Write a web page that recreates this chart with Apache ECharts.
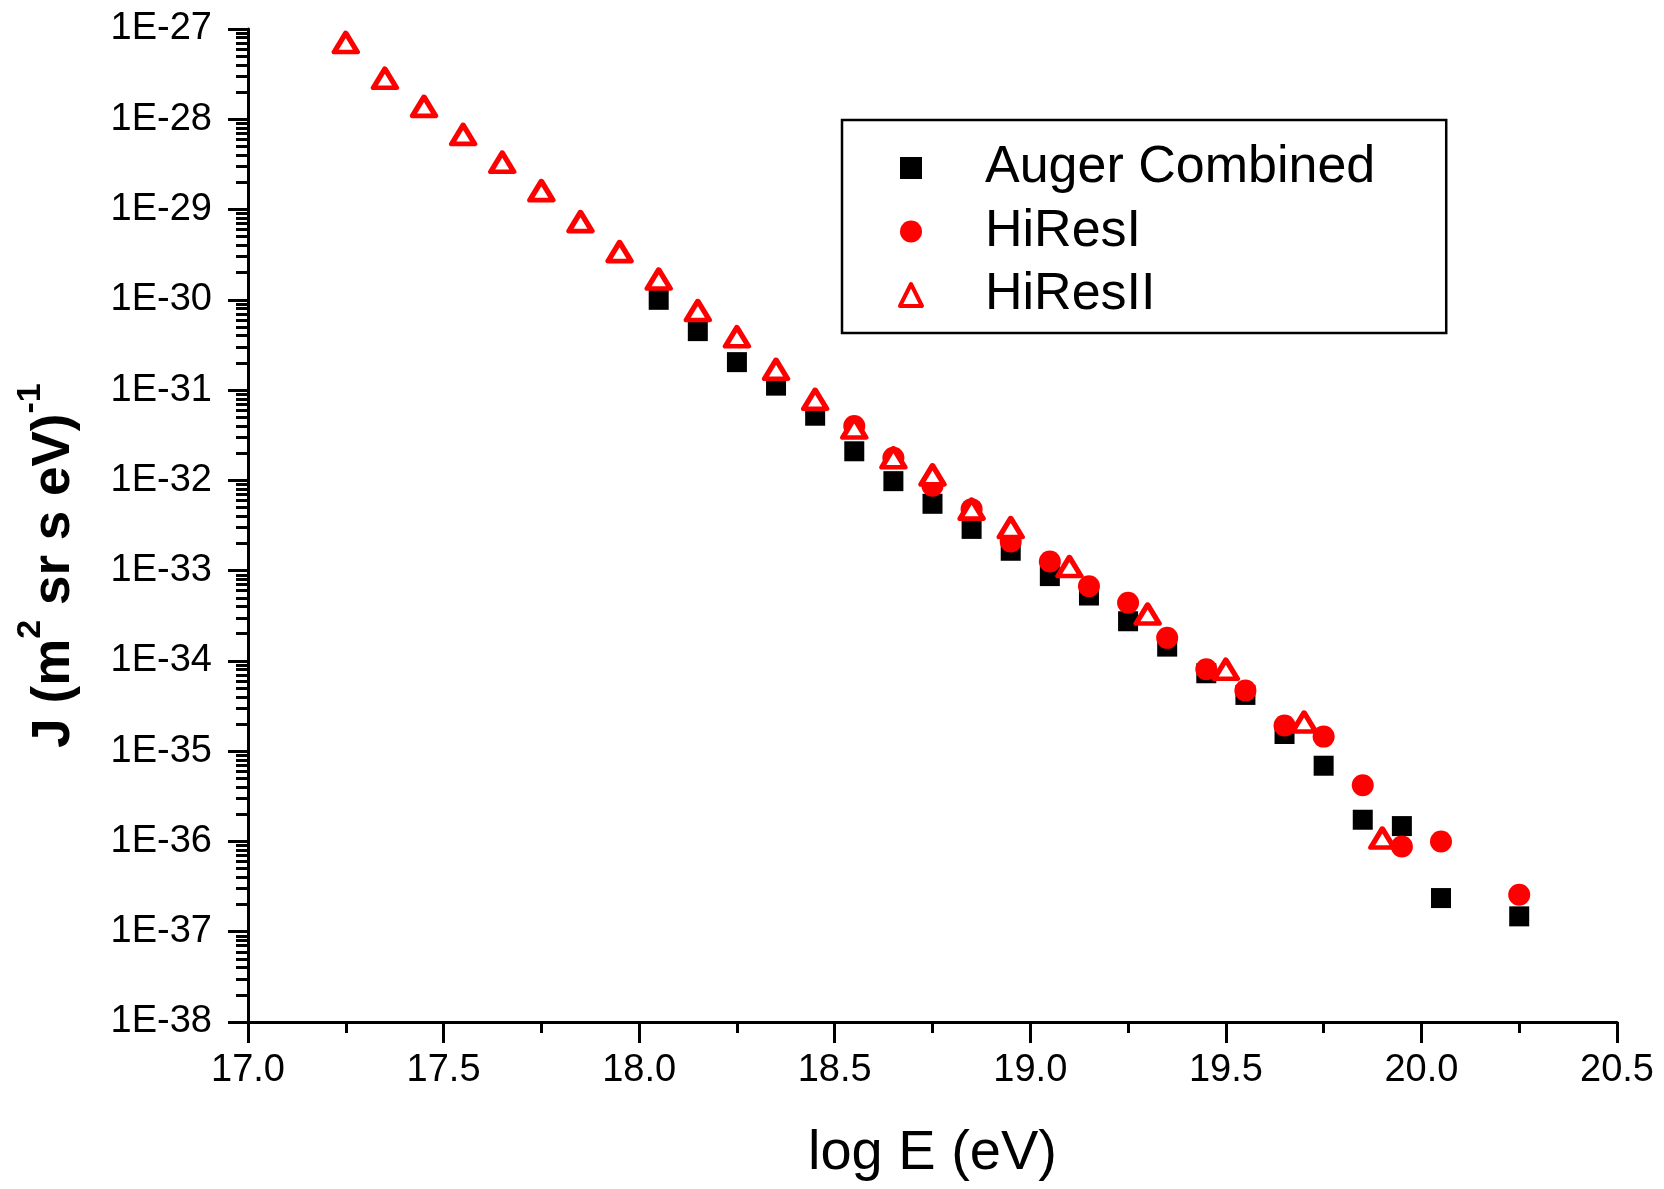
<!DOCTYPE html>
<html>
<head>
<meta charset="utf-8">
<script src="https://cdn.jsdelivr.net/npm/echarts@6/dist/echarts.min.js"></script>
<style>
html,body{margin:0;padding:0;background:#fff;}
#chart{width:1664px;height:1189px;}
</style>
</head>
<body>
<div id="chart"></div>
<script>
// Data: log10(E / eV) and flux J (m^2 sr s eV)^-1
const augerX = [18.05,18.15,18.25,18.35,18.45,18.55,18.65,18.75,18.85,18.95,19.05,19.15,19.25,19.35,19.45,19.55,19.65,19.75,19.85,19.95,20.05,20.25];
const augerJ = [1.0e-30,4.5e-31,2.04e-31,1.12e-31,5.2e-32,2.1e-32,9.8e-33,5.5e-33,2.9e-33,1.66e-33,8.7e-34,5.3e-34,2.75e-34,1.44e-34,7.3e-35,4.2e-35,1.55e-35,6.9e-36,1.74e-36,1.48e-36,2.36e-37,1.48e-37];

const hires1X = [18.55,18.65,18.75,18.85,18.95,19.05,19.15,19.25,19.35,19.45,19.55,19.65,19.75,19.85,19.95,20.05,20.25];
const hires1J = [4.0e-32,1.78e-32,8.7e-33,4.8e-33,2.1e-33,1.26e-33,6.7e-34,4.4e-34,1.8e-34,8.1e-35,4.7e-35,1.93e-35,1.45e-35,4.2e-36,8.8e-37,1.0e-36,2.57e-37];

const hires2X = [17.25,17.35,17.45,17.55,17.65,17.75,17.85,17.95,18.05,18.15,18.25,18.35,18.45,18.55,18.65,18.75,18.85,18.95,19.1,19.3,19.5,19.7,19.9];
const hires2J = [7.1e-28,2.85e-28,1.39e-28,6.8e-29,3.35e-29,1.62e-29,7.35e-30,3.42e-30,1.7e-30,7.6e-31,3.9e-31,1.7e-31,7.9e-32,3.8e-32,1.78e-32,1.15e-32,4.8e-33,3.0e-33,1.11e-33,3.3e-34,8.1e-35,2.1e-35,1.09e-36];

const seriesNames = ['Auger Combined', 'HiResI', 'HiResII'];
const yDecadeMin = -38, yDecadeMax = -27;   // tick labels 1E-38 ... 1E-27
const xMin = 17.0, xMax = 20.5, xStep = 0.5;

// log-space pairs
function pairs(xs, js){ return xs.map((x,i)=>[x, Math.log10(js[i])]); }
// log minor tick positions (2..9 x 10^n)
const minorY = [];
for (let d = yDecadeMin; d < yDecadeMax; d++) {
  for (let k = 2; k <= 9; k++) minorY.push(d + Math.log10(k));
}

const FONT = '"Liberation Sans", Arial, Helvetica, sans-serif';
const chart = echarts.init(document.getElementById('chart'), null, {renderer:'canvas'});
const axisLineStyle = {color:'#000', width:3};

chart.setOption({
  backgroundColor:'#fff',
  animation:false,
  textStyle:{fontFamily:FONT},
  grid:{left:248, right:47, top:29, bottom:167, containLabel:false},
  legend:{
    orient:'vertical',
    left:842, top:120,
    padding:[20,71,10,56],
    borderColor:'#000', borderWidth:2.5,
    itemWidth:22, itemHeight:22,
    itemGap:7.5,
    data:[
      {name:seriesNames[0]},
      {name:seriesNames[1]},
      {name:seriesNames[2], itemStyle:{borderWidth:4, borderColor:'#ff0000', color:'#ffffff'}}
    ],
    textStyle:{fontFamily:FONT, fontSize:52, color:'#000', lineHeight:56, padding:[0,0,0,58]}
  },
  xAxis:{
    type:'value', min:xMin, max:xMax, interval:xStep,
    name:'log E (eV)', nameLocation:'middle', nameGap:104,
    nameTextStyle:{fontFamily:FONT, fontSize:56, color:'#000'},
    axisLine:{show:true, onZero:false, lineStyle:axisLineStyle},
    axisTick:{show:true, inside:false, length:21, lineStyle:{color:'#000', width:3}},
    minorTick:{show:true, splitNumber:2, length:11, lineStyle:{color:'#000', width:3}},
    splitLine:{show:false}, minorSplitLine:{show:false},
    axisLabel:{fontFamily:FONT, fontSize:38, color:'#000', margin:30, formatter:v=>v.toFixed(1)}
  },
  yAxis:[{
    type:'value', position:'left', min:yDecadeMin, max:yDecadeMax, interval:1,
    name:'{b|J (m}{s|2}{b| sr s eV)}{s|-1}',
    nameLocation:'middle', nameGap:154, nameRotate:90,
    nameTextStyle:{
      padding:[0,80,0,0],
      rich:{
        b:{fontFamily:FONT, fontSize:53, fontWeight:'bold', color:'#000', lineHeight:80},
        s:{fontFamily:FONT, fontSize:34, fontWeight:'bold', color:'#000', lineHeight:34, verticalAlign:'top'}
      }
    },
    axisLine:{show:true, onZero:false, lineStyle:axisLineStyle},
    axisTick:{show:true, inside:false, length:20, lineStyle:{color:'#000', width:3}},
    splitLine:{show:false},
    axisLabel:{fontFamily:FONT, fontSize:38, color:'#000', margin:36, formatter:v=>'1E' + Math.round(v)}
  },{
    type:'value', position:'left', min:yDecadeMin, max:yDecadeMax,
    axisLine:{show:false},
    axisTick:{show:true, inside:false, length:12, customValues:minorY, lineStyle:{color:'#000', width:3}},
    axisLabel:{show:false},
    splitLine:{show:false}
  }],
  series:[
    {name:seriesNames[0], type:'scatter', yAxisIndex:0, symbol:'rect', symbolSize:20,
     itemStyle:{color:'#000', opacity:1}, data:pairs(augerX, augerJ)},
    {name:seriesNames[1], type:'scatter', yAxisIndex:0, symbol:'circle', symbolSize:22,
     itemStyle:{color:'#ff0000', opacity:1}, data:pairs(hires1X, hires1J)},
    {name:seriesNames[2], type:'scatter', yAxisIndex:0, symbol:'triangle', symbolSize:[23,19],
     itemStyle:{color:'#ffffff', borderColor:'#ff0000', borderWidth:5, borderJoin:'round', opacity:1},
     data:pairs(hires2X, hires2J)}
  ]
});
</script>
</body>
</html>
